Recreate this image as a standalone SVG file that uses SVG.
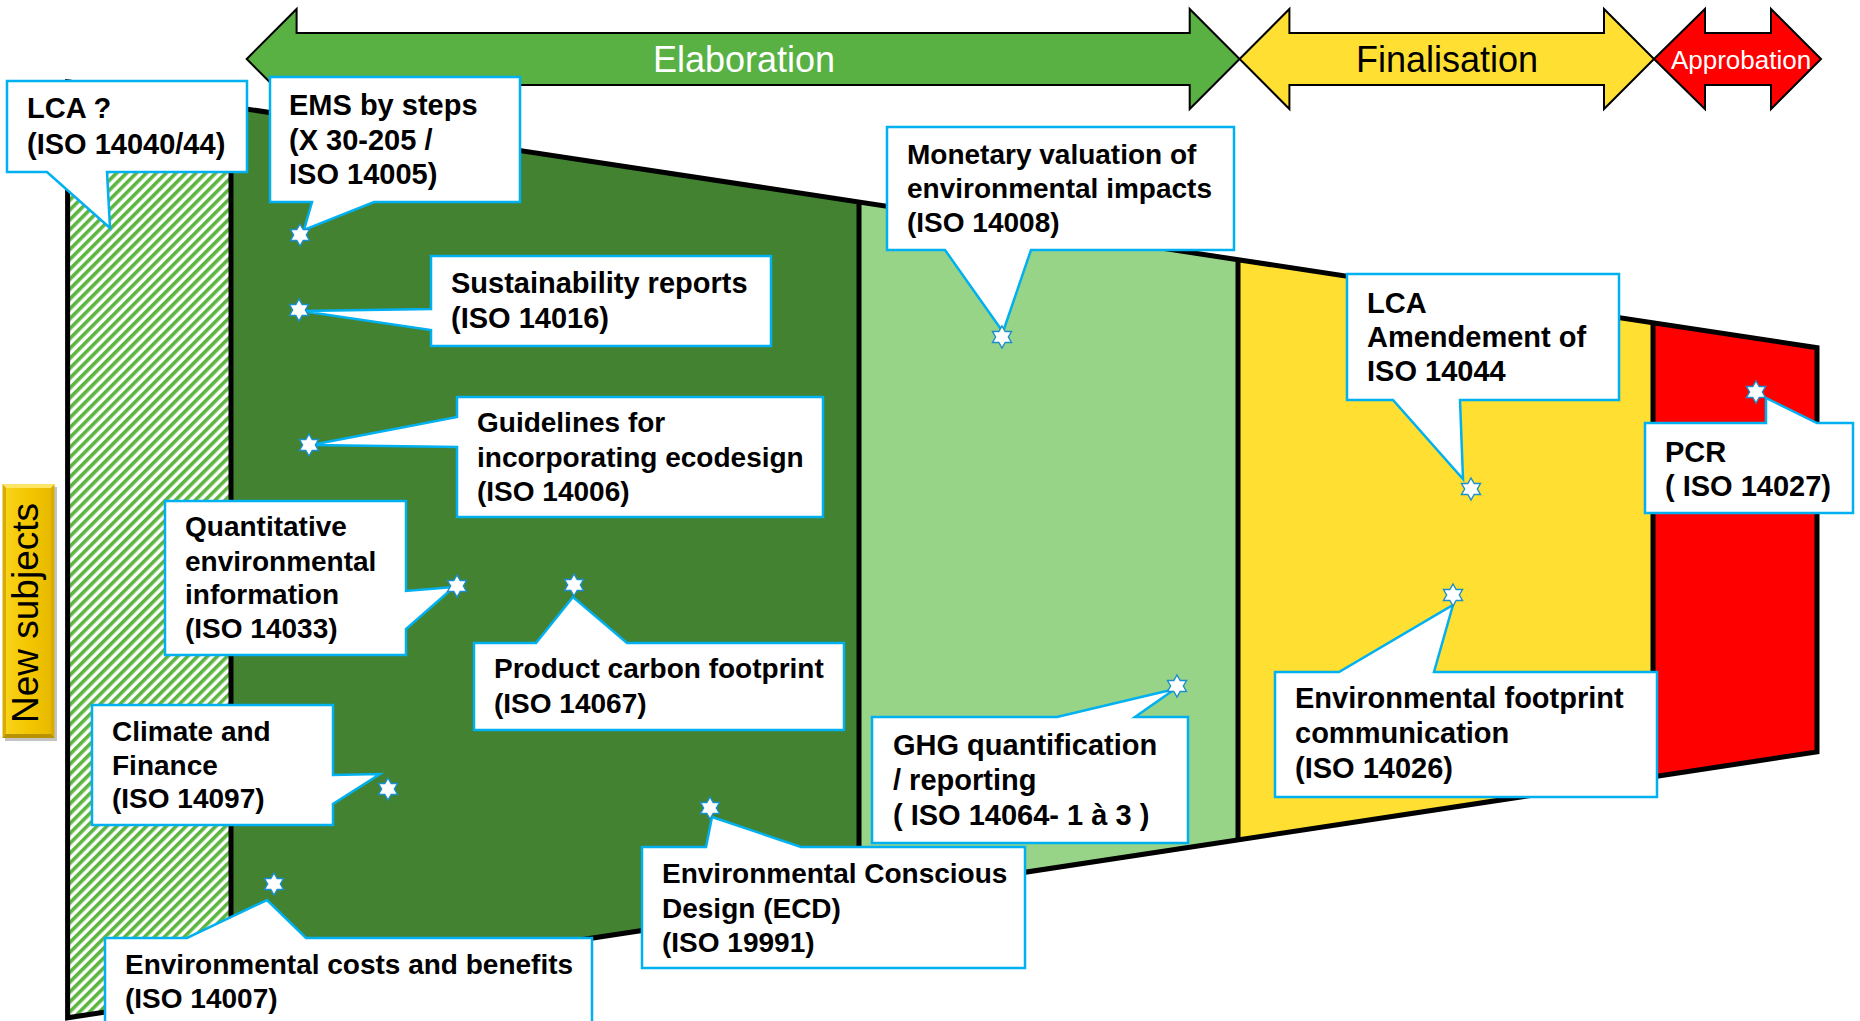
<svg xmlns="http://www.w3.org/2000/svg" width="1860" height="1021" viewBox="0 0 1860 1021">
<style>
.outline{fill:none;stroke:#000;stroke-width:5;stroke-linejoin:miter}
.div{stroke:#000;stroke-width:5}
.arrow{stroke:#000;stroke-width:2;stroke-linejoin:miter}
.callout{fill:#fff;stroke:#00B0F0;stroke-width:2.5;stroke-linejoin:miter}
.star{fill:#fff;stroke:#1A8FCB;stroke-width:1.4}
.t{font-family:"Liberation Sans",Arial,sans-serif;font-weight:bold;font-size:28px;fill:#000}
.t29{font-size:29px}
.ph{font-family:"Liberation Sans",Arial,sans-serif;font-size:36px;text-anchor:middle}
</style>
<defs>
<pattern id="hatch" width="7" height="7" patternUnits="userSpaceOnUse" patternTransform="rotate(45)">
<rect width="7" height="7" fill="#fff"/>
<rect width="3.6" height="7" fill="#5BB53F"/>
</pattern>
<linearGradient id="tagG" x1="0" y1="0" x2="1" y2="0">
<stop offset="0" stop-color="#F9D21A"/>
<stop offset="0.5" stop-color="#F3C600"/>
<stop offset="1" stop-color="#E8BA00"/>
</linearGradient>
<path id="star" d="M0,-11 L3.18,-5.5 L9.53,-5.5 L6.35,0 L9.53,5.5 L3.18,5.5 L0,11 L-3.18,5.5 L-9.53,5.5 L-6.35,0 L-9.53,-5.5 L-3.18,-5.5 Z"/>
</defs>

<g id="funnel">
<polygon points="67.6,81.8 231,106.6 231,993 67.6,1017.8" fill="url(#hatch)"/>
<polygon points="231,106.6 859,202.1 859,897.5 231,993" fill="#428230"/>
<polygon points="859,202.1 1238,259.7 1238,839.9 859,897.5" fill="#98D488"/>
<polygon points="1238,259.7 1653,322.8 1653,776.8 1238,839.9" fill="#FEDF32"/>
<polygon points="1653,322.8 1817,347.7 1817,751.9 1653,776.8" fill="#FF0000"/>
<line class="div" x1="231" y1="106.6" x2="231" y2="993"/>
<line class="div" x1="859" y1="202.1" x2="859" y2="897.5"/>
<line class="div" x1="1238" y1="259.7" x2="1238" y2="839.9"/>
<line class="div" x1="1653" y1="322.8" x2="1653" y2="776.8"/>
<polygon class="outline" points="67.6,81.8 1817,347.7 1817,751.9 67.6,1017.8"/>
</g>

<g id="phase-elaboration">
<path class="arrow" fill="#58B142" d="M246.7,59 L296.6,9 V33 H1189.7 V9 L1239.6,59 L1189.7,109 V85 H296.6 V109 Z"/>
<text class="ph" x="744" y="72" fill="#fff">Elaboration</text>
</g>
<g id="phase-finalisation">
<path class="arrow" fill="#FEDF32" d="M1239.6,59 L1289.4,9 V33 H1604 V9 L1654,59 L1604,109 V85 H1289.4 V109 Z"/>
<text class="ph" x="1447" y="72" fill="#000">Finalisation</text>
</g>
<g id="phase-approbation">
<path class="arrow" fill="#FF0000" d="M1654,59 L1705,9 V33 H1771 V9 L1821,59 L1771,109 V85 H1705 V109 Z"/>
<text class="ph" x="1741" y="69" fill="#fff" style="font-size:26px">Approbation</text>
</g>

<g id="new-subjects">
<rect x="5" y="487" width="52" height="254" fill="#7a7a7a" opacity="0.45"/>
<rect x="2.5" y="484" width="52" height="254" fill="#D8AC00"/>
<rect x="6" y="488" width="45" height="246" fill="url(#tagG)"/>
<polygon points="2.5,484 54.5,484 51,488 6,488" fill="#FFE566"/>
<polygon points="2.5,738 54.5,738 51,734 6,734" fill="#B89200"/>
<text transform="translate(38,613) rotate(-90)" x="0" y="0" style="font-family:'Liberation Sans',Arial,sans-serif;font-size:37px;text-anchor:middle;fill:#000">New subjects</text>
</g>

<g id="connectors">
<!-- callout tails are drawn as part of each callout shape -->
</g>

<g id="lca">
<path class="callout" d="M7,81 H247 V172 H107 L110,228 L47,172 H7 Z"/>
<text class="t t29"><tspan x="27" y="118">LCA ?</tspan><tspan x="27" y="154">(ISO 14040/44)</tspan></text>
</g>

<g id="ems">
<path class="callout" d="M270,77 H520 V202 H374 L304,230 L312,202 H270 Z"/>
<text class="t t29"><tspan x="289" y="115">EMS by steps</tspan><tspan x="289" y="150">(X 30-205 /</tspan><tspan x="289" y="184">ISO 14005)</tspan></text>
<use href="#star" x="300" y="235" class="star"/>
</g>

<g id="sustainability">
<path class="callout" d="M431,256 H771 V346 H431 V330 L301,311 L431,309 Z"/>
<text class="t t29"><tspan x="451" y="293">Sustainability reports</tspan><tspan x="451" y="328">(ISO 14016)</tspan></text>
<use href="#star" x="299" y="310" class="star"/>
</g>

<g id="ecodesign">
<path class="callout" d="M457,397 H823 V517 H457 V447 L311,445 L457,417 Z"/>
<text class="t"><tspan x="477" y="432">Guidelines for</tspan><tspan x="477" y="467">incorporating ecodesign</tspan><tspan x="477" y="501">(ISO 14006)</tspan></text>
<use href="#star" x="309" y="445" class="star"/>
</g>

<g id="quantitative">
<path class="callout" d="M165,501 H406 V591 L454,587 L406,629 V655 H165 Z"/>
<text class="t"><tspan x="185" y="536">Quantitative</tspan><tspan x="185" y="571">environmental</tspan><tspan x="185" y="604">information</tspan><tspan x="185" y="638">(ISO 14033)</tspan></text>
<use href="#star" x="457" y="586" class="star"/>
</g>

<g id="carbon-footprint">
<path class="callout" d="M474,643 H536 L573,597 L627,643 H844 V730 H474 Z"/>
<text class="t"><tspan x="494" y="678">Product carbon footprint</tspan><tspan x="494" y="713">(ISO 14067)</tspan></text>
<use href="#star" x="574" y="585" class="star"/>
</g>

<g id="climate-finance">
<path class="callout" d="M92,705 H333 V775 L380,774 L333,804 V825 H92 Z"/>
<text class="t"><tspan x="112" y="741">Climate and</tspan><tspan x="112" y="775">Finance</tspan><tspan x="112" y="808">(ISO 14097)</tspan></text>
<use href="#star" x="388" y="789" class="star"/>
</g>

<g id="costs-benefits">
<path class="callout" d="M105,938 H187 L267,900 L306,938 H592 V1030 H105 Z"/>
<text class="t"><tspan x="125" y="974">Environmental costs and benefits</tspan><tspan x="125" y="1008">(ISO 14007)</tspan></text>
<use href="#star" x="274" y="884" class="star"/>
</g>

<g id="monetary">
<path class="callout" d="M887,127 H1234 V250 H1031 L1003,332 L945,250 H887 Z"/>
<text class="t"><tspan x="907" y="164">Monetary valuation of</tspan><tspan x="907" y="198">environmental impacts</tspan><tspan x="907" y="232">(ISO 14008)</tspan></text>
<use href="#star" x="1002" y="337" class="star"/>
</g>

<g id="ghg">
<path class="callout" d="M872,717 H1057 L1175,689 L1135,717 H1188 V843 H872 Z"/>
<text class="t t29"><tspan x="893" y="755">GHG quantification</tspan><tspan x="893" y="790">/ reporting</tspan><tspan x="893" y="825">( ISO 14064- 1 à 3 )</tspan></text>
<use href="#star" x="1177" y="686" class="star"/>
</g>

<g id="ecd">
<path class="callout" d="M642,847 H706 L712,817 L801,847 H1025 V968 H642 Z"/>
<text class="t"><tspan x="662" y="883">Environmental Conscious</tspan><tspan x="662" y="918">Design (ECD)</tspan><tspan x="662" y="952">(ISO 19991)</tspan></text>
<use href="#star" x="710" y="808" class="star"/>
</g>

<g id="lca-amendment">
<path class="callout" d="M1347,274 H1619 V400 H1460 L1463,479 L1393,400 H1347 Z"/>
<text class="t t29"><tspan x="1367" y="313">LCA</tspan><tspan x="1367" y="347">Amendement of</tspan><tspan x="1367" y="381">ISO 14044</tspan></text>
<use href="#star" x="1471" y="489" class="star"/>
</g>

<g id="pcr">
<path class="callout" d="M1645,423 H1766 V398 L1817,423 H1853 V513 H1645 Z"/>
<text class="t t29"><tspan x="1665" y="462">PCR</tspan><tspan x="1665" y="496">( ISO 14027)</tspan></text>
<use href="#star" x="1756" y="392" class="star"/>
</g>

<g id="footprint-communication">
<path class="callout" d="M1275,672 H1339 L1453,605 L1434,672 H1657 V797 H1275 Z"/>
<text class="t t29"><tspan x="1295" y="708">Environmental footprint</tspan><tspan x="1295" y="743">communication</tspan><tspan x="1295" y="778">(ISO 14026)</tspan></text>
<use href="#star" x="1453" y="595" class="star"/>
</g>
</svg>
